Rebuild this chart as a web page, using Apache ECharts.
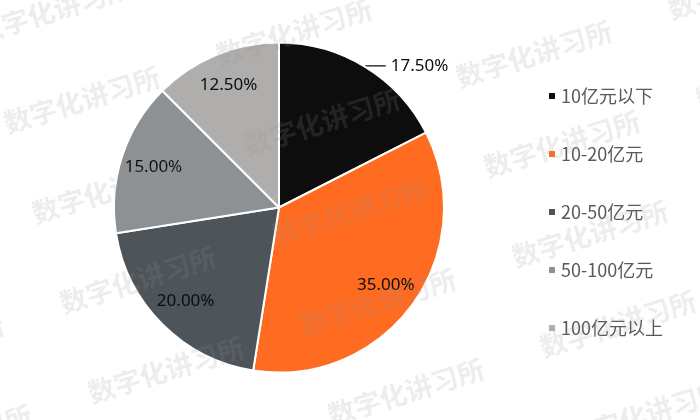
<!DOCTYPE html>
<html>
<head>
<meta charset="utf-8">
<script src="https://cdn.jsdelivr.net/npm/echarts@6/dist/echarts.min.js"></script>
<style>html,body{margin:0;padding:0;background:#fff;}#c{width:700px;height:420px;}</style>
</head>
<body>
<div id="c"></div>
<script>
const categories = ['10亿元以下', '10-20亿元', '20-50亿元', '50-100亿元', '100亿元以上'];
const shares = [17.5, 35, 20, 15, 12.5];
const outsideLabel = [true, false, false, false, false];
const colors = ['#0d0d0d', '#ff6b21', '#4d545a', '#8e9194', '#b0aeac'];

const chart = echarts.init(document.getElementById('c'), null, {renderer: 'canvas'});
const fmt = p => p.percent.toFixed(2) + '%';
const labelFont = {fontSize: 17, color: '#0d0d0d', fontFamily: 'Noto Sans'};

const mainData = categories.map((n, i) => ({
  name: n, value: shares[i], itemStyle: {color: colors[i]},
  label: {show: outsideLabel[i]}, labelLine: {show: outsideLabel[i]}
}));
const innerLabelData = shares.map((v, i) => ({
  value: v, label: {show: !outsideLabel[i]}
}));

// watermark (decoration)
const marks = [];
for (let k = -2; k <= 4; k++) {
  for (let j = -1; j <= 3; j++) {
    const x = 82 + 240 * j + 28 * k;
    const y = 100 + 22 * j + 90 * k;
    if (x < -120 || x > 820 || y < -60 || y > 470) continue;
    marks.push({
      type: 'text', x: x, y: y, rotation: 0.3, z: 100, silent: true,
      style: {text: '数字化讲习所', fill: 'rgba(150,150,150,0.17)', font: 'bold 27px "Noto Sans CJK SC"',
        textAlign: 'center', textVerticalAlign: 'middle'}
    });
  }
}

chart.setOption({
  backgroundColor: '#fff',
  animation: false,
  legend: {
    data: categories, orient: 'vertical', left: 542, top: 81,
    icon: 'rect', itemWidth: 8, itemHeight: 8, itemGap: 38,
    textStyle: {fontSize: 18, color: '#595959', lineHeight: 20, fontFamily: 'Noto Sans CJK SC'}
  },
  graphic: marks,
  series: [
    {
      type: 'pie', center: [279, 207.5], radius: 165, startAngle: 90, clockwise: true,
      avoidLabelOverlap: false,
      itemStyle: {borderColor: '#fff', borderWidth: 2},
      label: Object.assign({position: 'outside', formatter: fmt, distanceToLabelLine: 5}, labelFont),
      labelLine: {length: 1, length2: 20, lineStyle: {color: '#0d0d0d', width: 1.3}},
      emphasis: {disabled: true},
      data: mainData
    },
    {
      type: 'pie', center: [279, 207.5], radius: [108, 150], startAngle: 90, clockwise: true,
      silent: true, avoidLabelOverlap: false,
      itemStyle: {color: 'rgba(0,0,0,0)', borderWidth: 0},
      label: Object.assign({position: 'inside', formatter: fmt}, labelFont),
      labelLine: {show: false},
      emphasis: {disabled: true},
      data: innerLabelData
    }
  ]
});
</script>
</body>
</html>
